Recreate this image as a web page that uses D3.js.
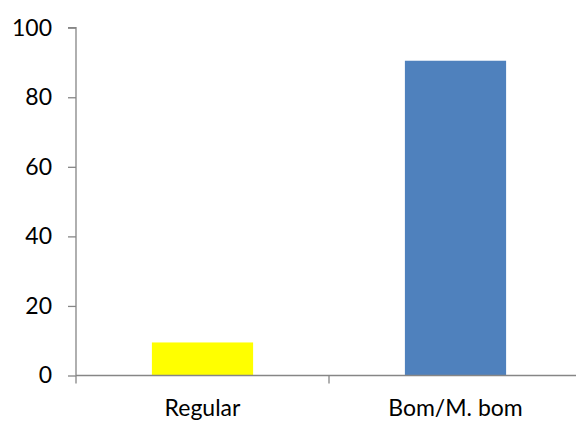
<!DOCTYPE html>
<html><head><meta charset="utf-8">
<script src="https://cdn.jsdelivr.net/npm/d3@7/dist/d3.min.js"></script>
<style>body{margin:0;background:#fff}svg{display:block}</style>
</head><body>
<svg id="c" width="576" height="421"></svg>
<script>
const categories = ["Regular", "Bom/M. bom"];
const values = [9.5, 90.5];
const colors = ["#FFFF00", "#4F81BD"];
const yTicks = [0, 20, 40, 60, 80, 100];

(function () {
const svg = d3.select("#c");
const mL = 76, mR = 582, mT = 27.7, mB = 375.5;
const x = d3.scaleBand().domain(categories).range([mL, mR]).padding(0);
const y = d3.scaleLinear().domain([0, 100]).range([mB, mT]);
const font = "Lato, 'Open Sans', sans-serif";
const axisColor = "#868686";
const fs = 23;

// bars
svg.selectAll("rect.bar").data(categories).enter().append("rect")
  .attr("x", d => x(d) + x.bandwidth() * 0.3)
  .attr("width", x.bandwidth() * 0.4)
  .attr("y", (d, i) => y(values[i]))
  .attr("height", (d, i) => y(0) - y(values[i]))
  .attr("fill", (d, i) => colors[i]);

// y axis
const ya = svg.append("g").attr("transform", `translate(${mL},0)`)
  .call(d3.axisLeft(y).tickValues(yTicks).tickSize(8).tickPadding(16));
ya.select(".domain").attr("stroke", axisColor).attr("stroke-width", 1.3)
  .attr("d", `M-8,${mT}H0V${mB}`);
ya.selectAll(".tick line").attr("stroke", axisColor).attr("stroke-width", 1.3);
ya.selectAll(".tick text").attr("font-family", font).attr("font-size", fs).attr("fill", "#000");

// x axis
const xa = svg.append("g").attr("transform", `translate(0,${mB})`)
  .call(d3.axisBottom(x).tickSize(0).tickPadding(24));
xa.select(".domain").attr("stroke", axisColor).attr("stroke-width", 1.3)
  .attr("d", `M${mL},0H${mR}`);
xa.selectAll(".tick text").attr("font-family", font).attr("font-size", fs).attr("fill", "#000");
// category separators
const seps = [mL].concat(categories.map(c => x(c) + x.bandwidth()));
svg.selectAll("line.sep").data(seps).enter().append("line")
  .attr("x1", d => d).attr("x2", d => d)
  .attr("y1", mB).attr("y2", mB + 8)
  .attr("stroke", axisColor).attr("stroke-width", 1.3);
})();
</script>
</body></html>
